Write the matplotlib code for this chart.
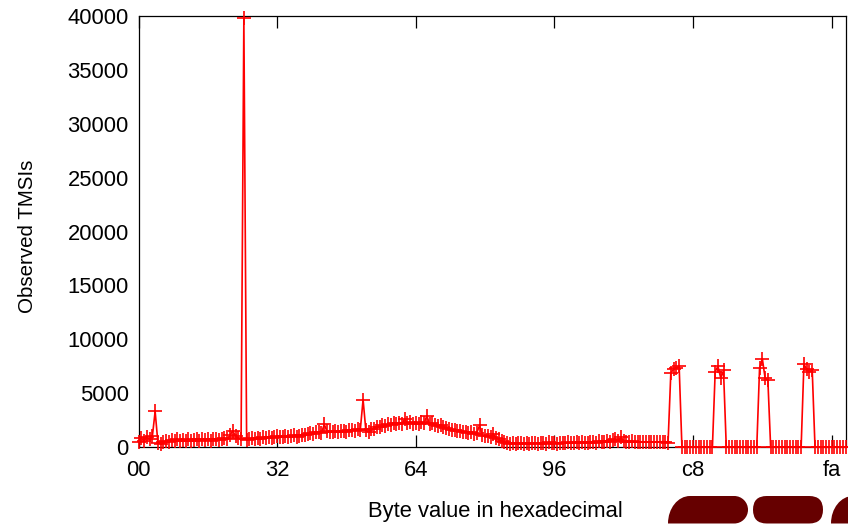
import numpy as np
import matplotlib
matplotlib.use("Agg")
import matplotlib.pyplot as plt
from matplotlib.path import Path
from matplotlib.patches import PathPatch, FancyBboxPatch
from matplotlib.transforms import IdentityTransform

plt.rcParams['font.family'] = ['Liberation Sans', 'DejaVu Sans']

# ---- data ----
byte_values = list(range(256))
observed = (
    [500, 800, 600, 900, 700, 1000, 3300, 400, 300, 450]
    + [600, 500, 650, 550, 700, 600, 650, 550, 700, 600]
    + [650, 700, 600, 750, 650, 700, 600, 750, 700, 650]
    + [700, 800, 750, 1100, 1500, 1000, 800, 700]
    + [39800]
    + [650, 750, 800, 700, 850, 750, 900, 800, 950, 850, 900]
    + [1000, 900, 950, 1050, 900, 1000, 1100, 950, 1050, 1150]
    + [1100, 1200, 1300, 1250, 1350, 1400, 1300, 2100, 1450, 1350]
    + [1400, 1500, 1350, 1450, 1500, 1400, 1550, 1600, 1500, 1700]
    + [1600, 4400, 1550, 1400, 1650, 1700, 1900, 1850, 2000, 1950]
    + [2100, 2000, 2200, 2100, 2250, 2150, 2600, 2200, 2300, 2100]
    + [2250, 2150, 2300, 2200, 2900, 2100, 2200, 2050, 1950, 2000]
    + [1850, 1750, 1700, 1600, 1550, 1450, 1500, 1350, 1400, 1300]
    + [1350, 1250, 1300, 2000, 1100, 1000, 1050, 900, 1200, 800]
    + [700, 550, 450, 350, 300, 400, 300, 350, 400, 300]
    + [350, 300, 400, 350, 300, 400, 350, 300, 450, 350]
    + [400, 300, 350, 400, 350, 450, 400, 350, 500, 400]
    + [450, 400, 350, 500, 450, 400, 550, 450, 500, 600]
    + [500, 650, 700, 550, 900, 600, 500, 450, 550, 500]
    + [450, 500, 450, 500, 450, 500, 450, 500, 450, 500, 450, 400]
    + [6900, 7200, 7350, 7500]
    + [0] * 12
    + [7000, 7500, 6400, 7100]
    + [0] * 12
    + [7300, 8200, 6400, 6200]
    + [0] * 12
    + [7700, 7200, 7000, 7100]
    + [0] * 12
)
assert len(observed) == 256

xtick_pos = [0, 50, 100, 150, 200, 250]
xtick_labels = ['00', '32', '64', '96', 'c8', 'fa']
ytick_pos = [0, 5000, 10000, 15000, 20000, 25000, 30000, 35000, 40000]

W, H = 848, 525
fig = plt.figure(figsize=(W / 100, H / 100), dpi=100)
ax = fig.add_axes([138.5 / W, 1 - 447 / H, (845.5 - 138.5) / W, (447 - 16) / H])

ax.plot(byte_values, observed, color='#ff0000', lw=1.2, marker='+',
        markersize=9.5, markeredgewidth=1.2, clip_on=False, zorder=3)

ax.set_xlim(0, 255)
ax.set_ylim(0, 40000)
ax.set_xticks(xtick_pos)
ax.set_xticklabels(xtick_labels)
ax.set_yticks(ytick_pos)
ax.tick_params(axis='x', direction='in', length=8.6, width=0.9, top=True,
               labelsize=15.8, pad=9)
ax.tick_params(axis='y', length=0, labelsize=15.8, pad=7)
for s in ax.spines.values():
    s.set_linewidth(0.9)
    s.set_zorder(2)

fig.text(495 / W, 1 - 511 / H, 'Byte value in hexadecimal', ha='center',
         va='center', fontsize=15.8)
fig.text(28 / W, 1 - 236 / H, 'Observed TMSIs', ha='center', va='center',
         rotation=90, fontsize=14.8)

# ---- decorative shapes (bottom right) ----
col = '#660000'
k = 0.5523


def tab_shape(x0, x1, ytop, ybot):
    # display coordinates (y up)
    yt = H - ytop
    yb = H - ybot
    r = (yt - yb) / 2.0
    rx = 22.0
    ry = yt - yb
    cx_r = x1 - r
    cy = (yt + yb) / 2.0
    verts = [
        (x0, yb),
        (cx_r, yb),
        (cx_r + k * r, yb), (x1, cy - k * r), (x1, cy),
        (x1, cy + k * r), (cx_r + k * r, yt), (cx_r, yt),
        (x0 + rx, yt),
        (x0 + rx - k * rx, yt), (x0, yb + k * ry), (x0, yb),
        (x0, yb),
    ]
    codes = [Path.MOVETO, Path.LINETO,
             Path.CURVE4, Path.CURVE4, Path.CURVE4,
             Path.CURVE4, Path.CURVE4, Path.CURVE4,
             Path.LINETO,
             Path.CURVE4, Path.CURVE4, Path.CURVE4,
             Path.CLOSEPOLY]
    return PathPatch(Path(verts, codes), facecolor=col, edgecolor='none',
                     transform=IdentityTransform())


fig.patches.append(tab_shape(668, 748, 496, 523.5))
fig.patches.append(tab_shape(831, 912, 496, 523.5))
pill = FancyBboxPatch((753, H - 523.5), 823 - 753, 27.5,
                      boxstyle='round,pad=0,rounding_size=13.7',
                      facecolor=col, edgecolor='none',
                      transform=IdentityTransform())
fig.patches.append(pill)

fig.savefig('out.png', dpi=100)
